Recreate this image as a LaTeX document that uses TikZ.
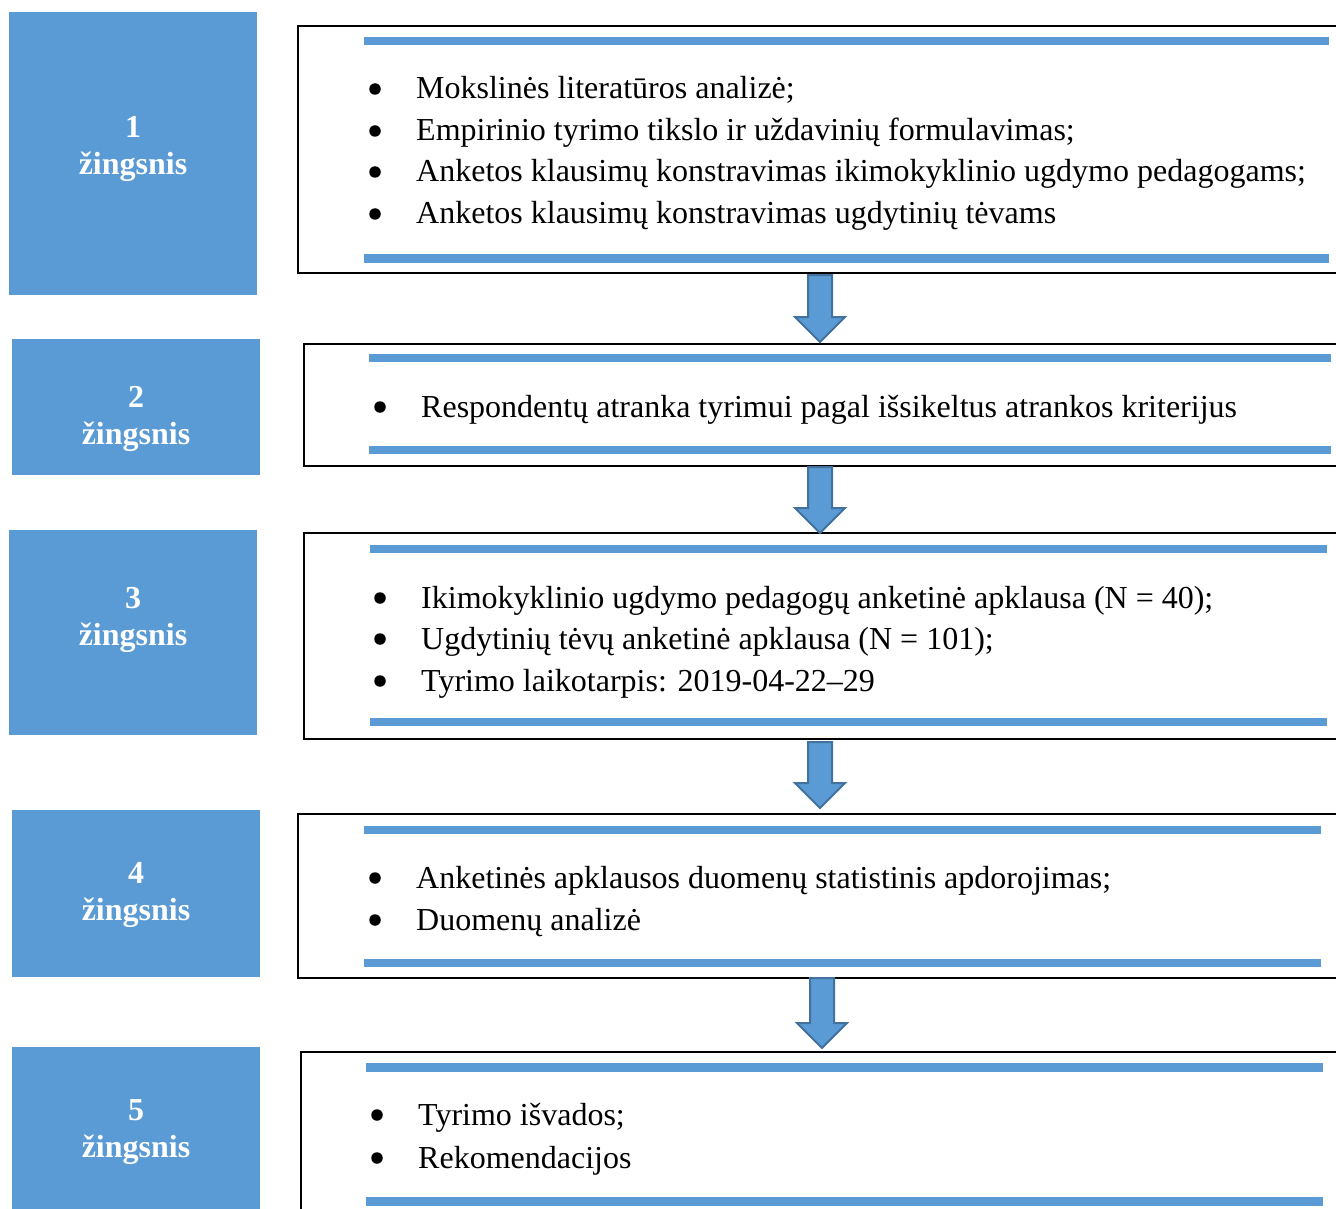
\documentclass[tikz,border=0pt]{standalone}
\usepackage{fontspec}
\setmainfont{Liberation Serif}
\usetikzlibrary{calc}
\definecolor{stepblue}{HTML}{5B9BD5}
\definecolor{arrowedge}{HTML}{41719C}
\tikzset{
  stepbox/.style={fill=stepblue, draw=none, inner sep=0},
  frame/.style={draw=black, line width=2.6pt, inner sep=0},
  blueline/.style={fill=stepblue, draw=none},
  txt/.style={anchor=base west, inner sep=0, font=\fontsize{32}{38}\selectfont},
  lbl/.style={anchor=base, inner sep=0, text=white, font=\bfseries\fontsize{32}{38}\selectfont},
  bul/.style={circle, fill=black, inner sep=0, minimum size=11.5pt},
  barrow/.style={fill=stepblue, draw=arrowedge, line width=2pt, line join=miter}
}
\newcommand\blockarrow[2]{%
  \draw[barrow] ($(#1)+(-12,0)$) -- ($(#1)+(12,0)$) -- ($(#2)+(12,-25)$) -- ($(#2)+(25,-25)$)
    -- (#2) -- ($(#2)+(-25,-25)$) -- ($(#2)+(-12,-25)$) -- cycle;}
\begin{document}
\begin{tikzpicture}[x=1pt,y=-1pt]
\useasboundingbox (0,0) rectangle (1336,1209);
\clip (0,0) rectangle (1336,1209);

% step boxes
\node[stepbox, minimum width=248pt, minimum height=283pt] (s1) at (133,153.5) {};
\node[stepbox, minimum width=248pt, minimum height=136pt] (s2) at (136,407) {};
\node[stepbox, minimum width=248pt, minimum height=205pt] (s3) at (133,632.5) {};
\node[stepbox, minimum width=248pt, minimum height=167pt] (s4) at (136,893.5) {};
\node[stepbox, minimum width=248pt, minimum height=170pt] (s5) at (136,1132) {};

\node[lbl] (n1) at (133,138) {1};
\node[lbl] (w1) at (133,175) {žingsnis};
\node[lbl] (n2) at (136,407) {2};
\node[lbl] (w2) at (136,444) {žingsnis};
\node[lbl] (n3) at (133,608) {3};
\node[lbl] (w3) at (133,645) {žingsnis};
\node[lbl] (n4) at (136,883) {4};
\node[lbl] (w4) at (136,920) {žingsnis};
\node[lbl] (n5) at (136,1120) {5};
\node[lbl] (w5) at (136,1157) {žingsnis};

% frames
\node[frame, minimum width=1050pt, minimum height=247pt] (b1) at (823,149.5) {};
\node[frame, minimum width=1044pt, minimum height=122pt] (b2) at (826,405) {};
\node[frame, minimum width=1044pt, minimum height=206pt] (b3) at (826,636) {};
\node[frame, minimum width=1050pt, minimum height=164pt] (b4) at (823,896) {};
\node[frame, minimum width=1047pt, minimum height=170pt] (b5) at (824.5,1137) {};

% blue lines
\fill[blueline] (364,37) rectangle (1329,45.5);
\fill[blueline] (364,254) rectangle (1329,262.5);
\fill[blueline] (369,354) rectangle (1331,362);
\fill[blueline] (369,446) rectangle (1331,454);
\fill[blueline] (370,545) rectangle (1327,553);
\fill[blueline] (370,718) rectangle (1327,726);
\fill[blueline] (364,826) rectangle (1321,833.5);
\fill[blueline] (364,959) rectangle (1321,967);
\fill[blueline] (366,1063) rectangle (1323,1071.5);
\fill[blueline] (366,1197) rectangle (1323,1205.5);

% box 1 text
\node[bul] (p11) at (375,89) {};
\node[txt] (t11) at (416,99) {Mokslinės literatūros analizė;};
\node[bul] (p12) at (375,131) {};
\node[txt] (t12) at (416,141) {Empirinio tyrimo tikslo ir uždavinių formulavimas;};
\node[bul] (p13) at (375,172) {};
\node[txt] (t13) at (416,182) {Anketos klausimų konstravimas ikimokyklinio ugdymo pedagogams;};
\node[bul] (p14) at (375,214) {};
\node[txt] (t14) at (416,224) {Anketos klausimų konstravimas ugdytinių tėvams};

% box 2 text
\node[bul] (p21) at (380,407) {};
\node[txt] (t21) at (421,417) {Respondentų atranka tyrimui pagal išsikeltus atrankos kriterijus};

% box 3 text
\node[bul] (p31) at (380,598) {};
\node[txt] (t31) at (421,608) {Ikimokyklinio ugdymo pedagogų anketinė apklausa (N = 40);};
\node[bul] (p32) at (380,639) {};
\node[txt] (t32) at (421,649) {Ugdytinių tėvų anketinė apklausa (N = 101);};
\node[bul] (p33) at (380,681) {};
\node[txt] (t33) at (421,691) {Tyrimo laikotarpis: 2019-04-22–29};

% box 4 text
\node[bul] (p41) at (375,878) {};
\node[txt] (t41) at (416,888) {Anketinės apklausos duomenų statistinis apdorojimas;};
\node[bul] (p42) at (375,920) {};
\node[txt] (t42) at (416,930) {Duomenų analizė};

% box 5 text
\node[bul] (p51) at (377,1115) {};
\node[txt] (t51) at (418,1125) {Tyrimo išvados;};
\node[bul] (p52) at (377,1158) {};
\node[txt] (t52) at (418,1168) {Rekomendacijos};

% arrows
\coordinate (a1s) at (820,275);
\coordinate (a1e) at (820,342);
\coordinate (a2s) at (820,467);
\coordinate (a2e) at (820,533);
\coordinate (a3s) at (820,742);
\coordinate (a3e) at (820,808);
\coordinate (a4s) at (822,978);
\coordinate (a4e) at (822,1048);
\blockarrow{a1s}{a1e}
\blockarrow{a2s}{a2e}
\blockarrow{a3s}{a3e}
\blockarrow{a4s}{a4e}
\end{tikzpicture}
\end{document}
